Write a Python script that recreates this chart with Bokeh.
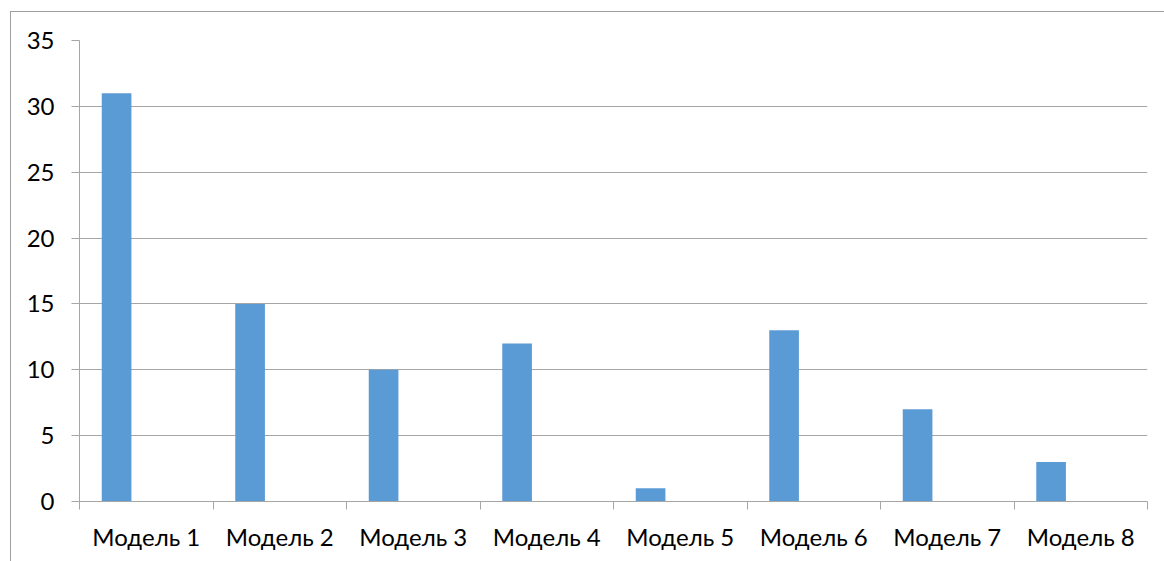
from bokeh.plotting import figure
from bokeh.models import FixedTicker, Range1d, ColumnDataSource
from bokeh.transform import dodge
from bokeh.embed import file_html
from bokeh.resources import INLINE

categories = ["Модель 1", "Модель 2", "Модель 3", "Модель 4",
              "Модель 5", "Модель 6", "Модель 7", "Модель 8"]
values = [31, 15, 10, 12, 1, 13, 7, 3]
y_ticks = [0, 5, 10, 15, 20, 25, 30, 35]

centers = [i + 0.5 for i in range(len(categories))]
source = ColumnDataSource(dict(x=centers, top=values))

GRID = "#A6A6A6"
FONT = "Lato"

p = figure(frame_width=1068, frame_height=461,
           min_border_left=68, min_border_top=28,
           min_border_right=17, min_border_bottom=60,
           x_range=Range1d(0, len(categories)), y_range=Range1d(0, 35),
           output_backend="svg", toolbar_location=None,
           background_fill_color="white", border_fill_color="white")
p.outline_line_color = None
p.styles = {"margin-left": "10px", "margin-top": "11px",
            "border-left": "1px solid #A0A0A0", "border-top": "1px solid #A0A0A0"}

p.vbar(x=dodge("x", -0.2222, range=p.x_range), top="top", bottom=0,
       width=0.2222, source=source, color="#5B9BD5", line_color=None)

# x axis: ticks at category boundaries, labels at centres
p.xaxis.ticker = FixedTicker(ticks=centers,
                             minor_ticks=list(range(len(categories) + 1)))
p.xaxis.major_label_overrides = {c: lab for c, lab in zip(centers, categories)}
p.xaxis.major_tick_line_color = None
p.xaxis.minor_tick_line_color = GRID
p.xaxis.minor_tick_out = 8
p.xaxis.minor_tick_in = 0
p.xaxis.axis_line_color = GRID
p.xaxis.major_label_standoff = 12
p.xgrid.grid_line_color = None

p.yaxis.ticker = FixedTicker(ticks=y_ticks, minor_ticks=[])
p.yaxis.major_tick_line_color = GRID
p.yaxis.major_tick_out = 8
p.yaxis.major_tick_in = 0
p.yaxis.axis_line_color = GRID
p.yaxis.minor_tick_line_color = None
p.yaxis.major_label_standoff = 17
p.ygrid.grid_line_color = GRID
p.ygrid.ticker = FixedTicker(ticks=y_ticks)

for ax in (p.xaxis, p.yaxis):
    ax.major_label_text_font = FONT
    ax.major_label_text_font_size = "24px"
    ax.major_label_text_color = "black"

open("out.html", "w").write(file_html(p, INLINE))
